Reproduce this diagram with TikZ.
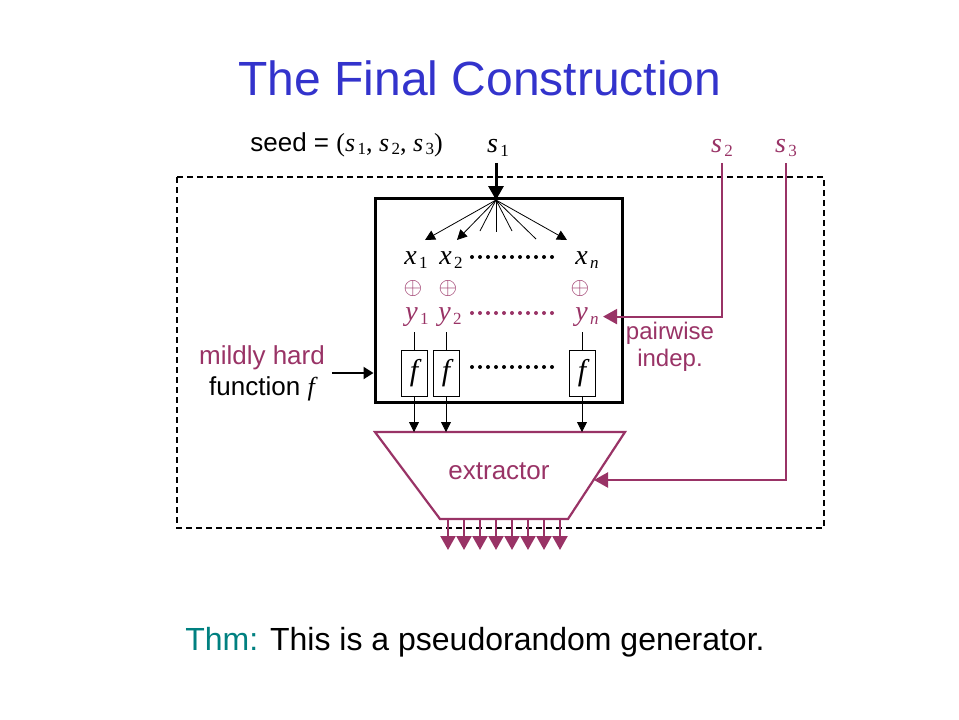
\documentclass[tikz,border=0pt]{standalone}
\usepackage{fontspec}
\setmainfont{Liberation Sans}
\newfontfamily\tms{Liberation Serif}
\usetikzlibrary{arrows.meta}
\definecolor{titleblue}{RGB}{51,51,204}
\definecolor{plum}{RGB}{153,51,102}
\definecolor{thmteal}{RGB}{0,128,128}
\newcommand\sv[2]{{\tms\itshape #1}\kern1.2pt\raisebox{-0.3ex}{\tms\fontsize{8.5}{8.5}\selectfont #2}}
\begin{document}
\begin{tikzpicture}[x=0.5pt,y=-0.5pt,
    body/.style={font=\fontsize{13}{15.5}\selectfont},
    varfont/.style={font=\fontsize{14}{14}\selectfont,inner sep=1pt},
    plumline/.style={draw=plum,line width=1.1pt},
    bigtip/.style={-{Triangle[length=7pt,width=7.5pt]}},
    smalltip/.style={-{Triangle[length=5pt,width=5pt]}},
    fcell/.style={draw,thin,minimum width=13pt,minimum height=23pt,inner sep=0pt,
      font=\tms\itshape\fontsize{15}{15}\selectfont},
    dotrow/.style={line width=2pt,line cap=round,dash pattern=on 0pt off 4pt}]
    \useasboundingbox (0,0) rectangle (959,719) ;
    \node[font=\fontsize{24}{28}\selectfont,text=titleblue,anchor=base] (title) at (480,95) {The Final Construction} ;
    \node[body,anchor=base west,inner sep=0pt] (seed) at (250,151) {seed = {\tms(\sv{s}{1}, \sv{s}{2}, \sv{s}{3})}} ;
    \node[varfont,anchor=base] (s1) at (498,152) {\sv{s}{1}} ;
    \node[varfont,anchor=base,text=plum] (s2) at (722,152) {\sv{s}{2}} ;
    \node[varfont,anchor=base,text=plum] (s3) at (786,152) {\sv{s}{3}} ;
    \draw[line width=0.6pt,dash pattern=on 3pt off 2pt] (177,177) rectangle (824,528) ;
    \node[draw,line width=1.5pt,minimum width=123.5pt,minimum height=102pt,inner sep=0pt] (core) at (498.5,300) {} ;
    \coordinate (fan) at (496,200) ;
    \draw[line width=1.5pt,bigtip] ([yshift=-2pt]s1.south -| fan) -- (fan) ;
    \foreach \ex/\ey in {480/231,496/232,512/231,536/239}
      \draw[thin] (fan) -- (\ex,\ey) ;
    \foreach \ex in {425,457,567}
      \draw[thin,smalltip] (fan) -- (\ex,240) ;
    \node[varfont,anchor=base] (x1) at (416,264) {\sv{x}{1}} ;
    \node[varfont,anchor=base] (x2) at (451,264) {\sv{x}{2}} ;
    \node[varfont,anchor=base] (xn) at (587,264) {\sv{x}{\itshape n}} ;
    \draw[dotrow] (472,257) -- (554,257) ;
    \foreach \px/\nm in {413/1,448/2,580/n}
      \node[text=plum,font=\fontsize{13}{13}\selectfont,inner sep=0pt] (p\nm) at (\px,288) {$\oplus$} ;
    \node[varfont,anchor=base,text=plum] (y1) at (417,320) {\sv{y}{1}} ;
    \node[varfont,anchor=base,text=plum] (y2) at (450,320) {\sv{y}{2}} ;
    \node[varfont,anchor=base,text=plum] (yn) at (587,320) {\sv{y}{\itshape n}} ;
    \draw[dotrow,plum] (472,313) -- (554,313) ;
    \node[fcell] (f1) at (414,373) {f} ;
    \node[fcell] (f2) at (446,373) {f} ;
    \node[fcell] (fn) at (582,373) {f} ;
    \draw[dotrow] (472,367) -- (554,367) ;
    \draw[thin] ([yshift=-2pt]f1.north |- y1.south) -- (f1.north) ;
    \draw[thin] ([yshift=-2pt]f2.north |- y2.south) -- (f2.north) ;
    \draw[thin] ([yshift=-2pt]fn.north |- yn.south) -- (fn.north) ;
    \coordinate (etl) at (375,432) ;
    \coordinate (etr) at (625,432) ;
    \coordinate (ebr) at (568,519) ;
    \coordinate (ebl) at (440,519) ;
    \coordinate (ein) at (594,480) ;
    \draw[plumline] (etl) -- (etr) -- (ebr) -- (ebl) -- cycle ;
    \node[body,text=plum] (ext) at (499,471) {extractor} ;
    \draw[thin,smalltip] (f1.south) -- (f1.south |- etl) ;
    \draw[thin,smalltip] (f2.south) -- (f2.south |- etl) ;
    \draw[thin,smalltip] (fn.south) -- (fn.south |- etl) ;
    \foreach \k in {0,...,7}
      \draw[plumline,bigtip] (448+16*\k,519) -- ++(0,31) ;
    \draw[plumline,bigtip] ([yshift=-2pt]s2.south) |- ([xshift=1pt]yn.east) ;
    \draw[plumline,bigtip] ([yshift=-2pt]s3.south) |- (ein) ;
    \node[font=\fontsize{12}{13.5}\selectfont,text=plum,align=center] (pw) at (670,347) {pairwise\\indep.} ;
    \node[body,align=center] (hard) at (262,373) {\textcolor{plum}{mildly hard}\\function {\tms\itshape f}} ;
    \draw[line width=1pt,-{Triangle[length=5pt,width=6pt]}] (hard.east) -- (hard.east -| core.west) ;
    \node[font=\fontsize{16}{19}\selectfont,anchor=base west,inner sep=0pt] (thm) at (185,650) {\textcolor{thmteal}{Thm:} This is a pseudorandom generator.} ;
  \end{tikzpicture}
\end{document}
